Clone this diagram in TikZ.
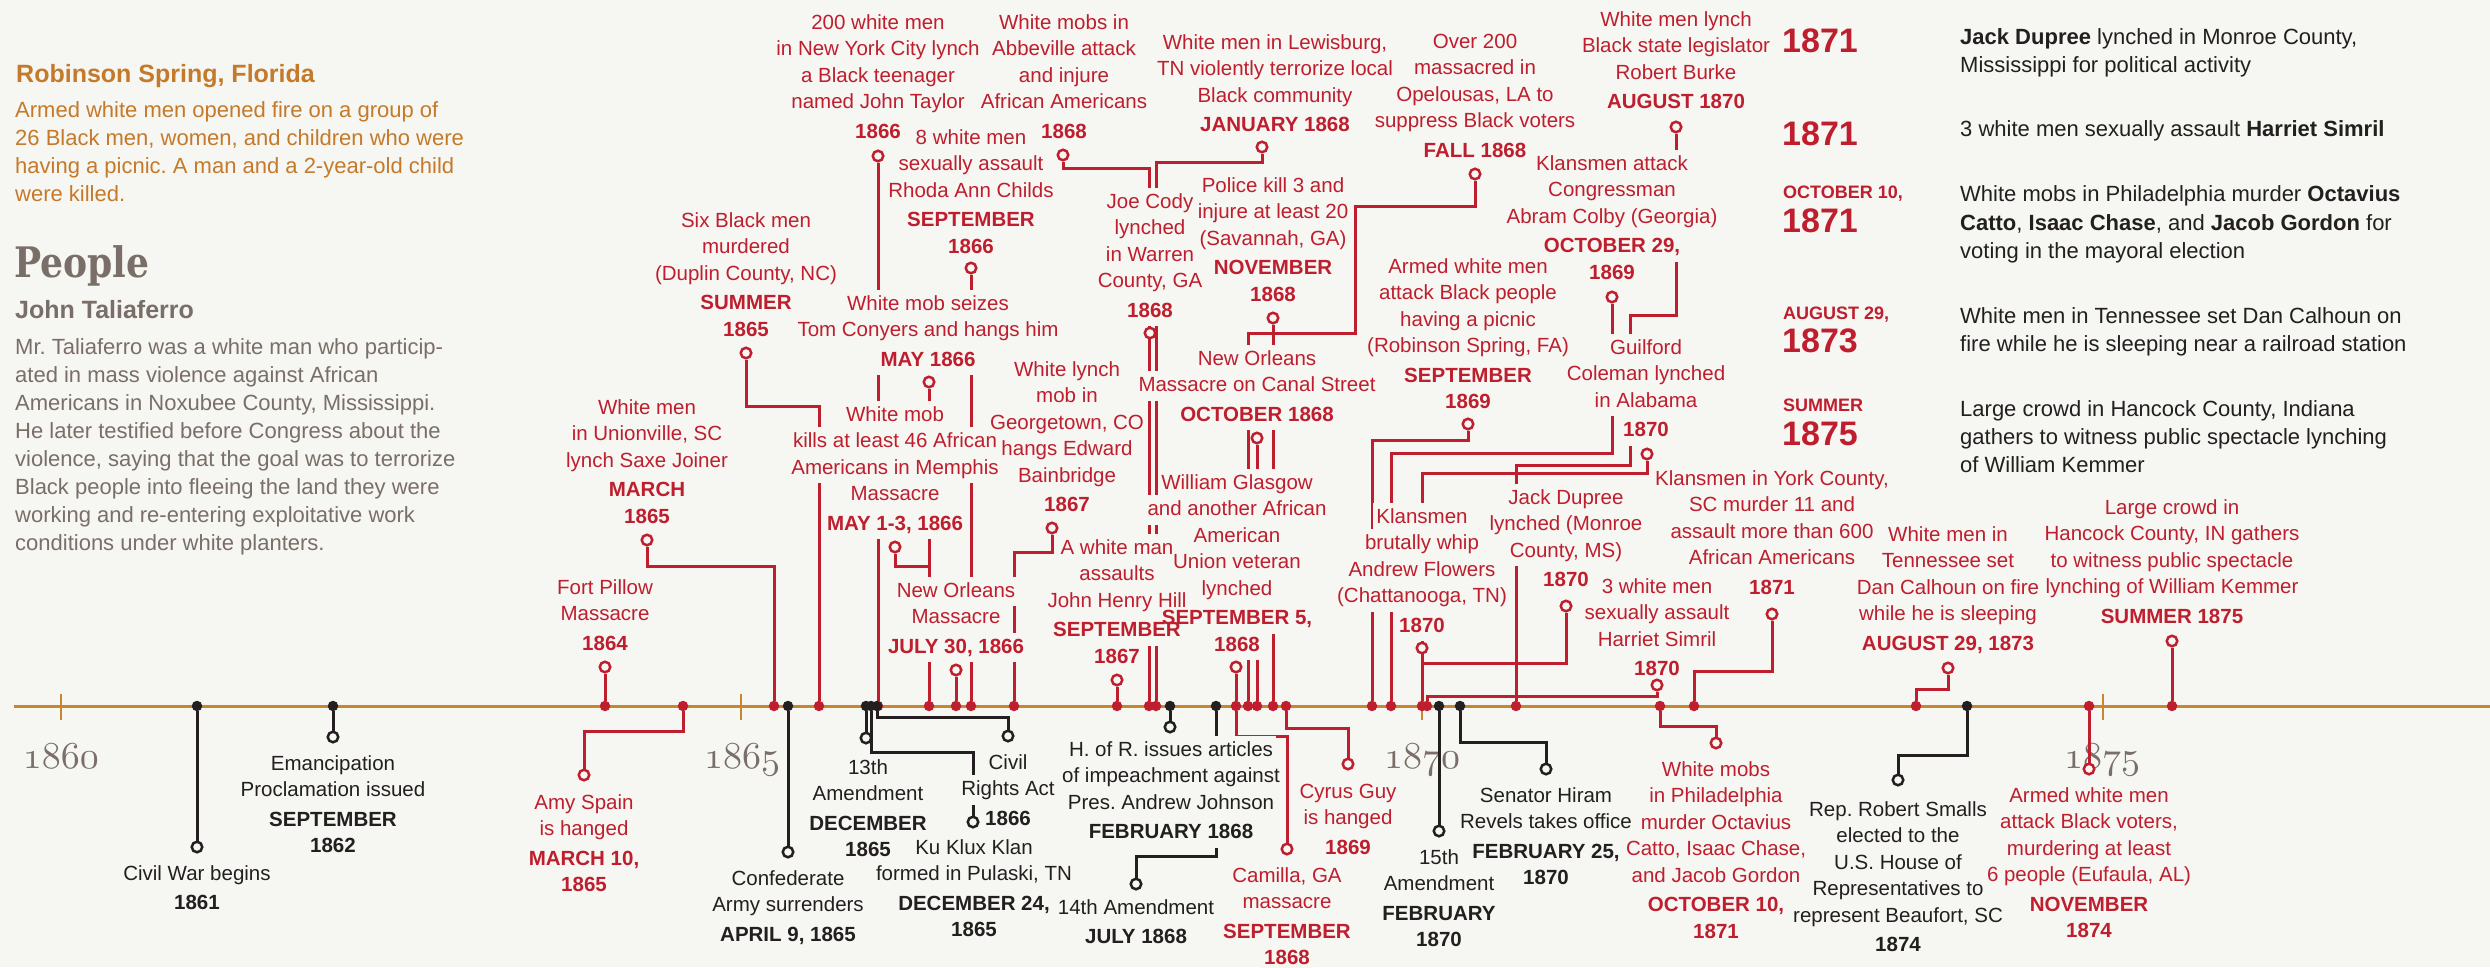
\documentclass[tikz,border=0pt]{standalone}
\usepackage{fontspec}
\usepackage{graphicx}
\setmainfont{Liberation Sans}
\newfontfamily\pplfont{DejaVu Serif}
\frenchspacing
\definecolor{bg}{HTML}{F6F6F2}
\definecolor{cred}{HTML}{BE1E2D}
\definecolor{cblk}{HTML}{231F20}
\definecolor{corange}{HTML}{C8862F}
\definecolor{ctitle}{HTML}{C47A2A}
\definecolor{cgrey}{HTML}{7A6E68}
\pgfdeclarelayer{back}\pgfdeclarelayer{lines}\pgfdeclarelayer{knock}\pgfdeclarelayer{top}
\pgfsetlayers{back,lines,knock,main,top}
\newcommand\evl[6]{%
  \foreach \evtxt [count=\evi] in {#6} {%
    \pgfmathsetmacro\evy{#3+(\evi-1)*26.5+(\evi>#5?3:0)}%
    \begin{pgfonlayer}{knock}
      \node[knk] (k#1\evi) at (#2,\evy+1.5) {\phantom{\evtxt}};
    \end{pgfonlayer}
    \node[lbl,text=#4] (#1\evi) at (#2,\evy) {\evtxt};
  }}
\newcommand\parl[6]{%
  \foreach \evtxt [count=\evi] in {#6} {%
    \pgfmathsetmacro\evy{#3+(\evi-1)*#4}%
    \node[#5] (#1\evi) at (#2,\evy) {\evtxt};
  }}
\begin{document}
\begin{tikzpicture}[x=1pt,y=-1pt,
  lbl/.style={font=\fontsize{20.5}{24}\selectfont, text height=19.5pt, text depth=5pt, inner xsep=2pt, inner ysep=1pt, outer sep=0pt},
  knk/.style={lbl, fill=bg, text depth=8pt, inner xsep=3.5pt},
  ringr/.style={circle, draw=cred, line width=2.5pt, fill=bg, minimum size=10.5pt, inner sep=0pt},
  ringb/.style={ringr, draw=cblk},
  dotr/.style={circle, fill=cred, minimum size=10.5pt, inner sep=0pt},
  dotb/.style={dotr, fill=cblk},
  rl/.style={draw=cred, line width=3pt},
  bl/.style={draw=cblk, line width=3pt},
  axis/.style={draw=corange, line width=3pt},
  yr/.style={anchor=base, inner sep=0pt, text=cgrey, font=\fontsize{10}{10}\usefont{OML}{lmm}{m}{it}},
  para/.style={anchor=base west, inner sep=0pt},
  rp/.style={anchor=base west, inner sep=0pt, text=cblk, font=\fontsize{22}{28}\selectfont},
  bigyr/.style={anchor=base west, inner sep=0pt, text=cred, font=\fontsize{34}{34}\selectfont\bfseries},
  smyr/.style={anchor=base west, inner sep=0pt, text=cred, font=\fontsize{18}{18}\selectfont\bfseries},
]
\useasboundingbox (0,0) rectangle (2490,967);
\begin{pgfonlayer}{back}
  \fill[bg] (0,0) rectangle (2490,967);
  \node[yr] (y1860) at (61,768) {\scalebox{3.8}{1860}};
  \node[yr] (y1865) at (742,768) {\scalebox{3.8}{1865}};
  \node[yr] (y1870) at (1422,768) {\scalebox{3.8}{1870}};
  \node[yr] (y1875) at (2102,768) {\scalebox{3.8}{1875}};
\end{pgfonlayer}

% ---------- left panel ----------
\node[para, text=ctitle, font=\fontsize{25}{25}\selectfont\bfseries] (rsTitle) at (16,82) {Robinson Spring, Florida};
\parl{rsP}{15}{117}{28}{para,text=ctitle,font=\fontsize{22}{28}\selectfont}{{Armed white men opened fire on a group of},{26 Black men, women, and children who were},{having a picnic. A man and a 2-year-old child},{were killed.}}
\node[para, text=cgrey, font=\pplfont\bfseries\fontsize{42}{42}\selectfont] (people) at (14,277) {\scalebox{0.86}[1]{People}};
\node[para, text=cgrey, font=\fontsize{25}{25}\selectfont\bfseries] (jtName) at (15,318) {John Taliaferro};
\parl{jtP}{15}{354}{28.1}{para,text=cgrey,font=\fontsize{22}{28}\selectfont}{{Mr. Taliaferro was a white man who particip-},{ated in mass violence against African},{Americans in Noxubee County, Mississippi.},{He later testified before Congress about the},{violence, saying that the goal was to terrorize},{Black people into fleeing the land they were},{working and re-entering exploitative work},{conditions under white planters.}}

% ---------- right panel ----------
\node[bigyr] (ry1) at (1782,52) {1871};
\node[bigyr] (ry2) at (1782,145) {1871};
\node[smyr] (rs3) at (1783,198.5) {OCTOBER 10,};
\node[bigyr] (ry3) at (1782,232) {1871};
\node[smyr] (rs4) at (1783,319.5) {AUGUST 29,};
\node[bigyr] (ry4) at (1782,352) {1873};
\node[smyr] (rs5) at (1783,411.5) {SUMMER};
\node[bigyr] (ry5) at (1782,445) {1875};
\node[rp] (rt1) at (1960,44) {\textbf{Jack Dupree} lynched in Monroe County,};
\node[rp] (rt2) at (1960,72) {Mississippi for political activity};
\node[rp] (rt3) at (1960,136) {3 white men sexually assault \textbf{Harriet Simril}};
\node[rp] (rt4) at (1960,201) {White mobs in Philadelphia murder \textbf{Octavius}};
\node[rp] (rt5) at (1960,230) {\textbf{Catto}, \textbf{Isaac Chase}, and \textbf{Jacob Gordon} for};
\node[rp] (rt6) at (1960,258) {voting in the mayoral election};
\node[rp] (rt7) at (1960,323) {White men in Tennessee set Dan Calhoun on};
\node[rp] (rt8) at (1960,351) {fire while he is sleeping near a railroad station};
\node[rp] (rt9) at (1960,416) {Large crowd in Hancock County, Indiana};
\node[rp] (rt10) at (1960,444) {gathers to witness public spectacle lynching};
\node[rp] (rt11) at (1960,472) {of William Kemmer};

% ---------- dots and rings ----------
\begin{pgfonlayer}{top}
\foreach \nm/\xx in {FP/605, AS/683, SJ/774, SB/819, NY/878, MAY/929, NO/956, RA/971, GT/1014, JH/1117, AB/1149, LW/1156, GL/1236, OP/1248, CN/1257, PK/1273, CG/1286, PC/1372, CO/1391, FL/1422, HS/1427, BK/1516, PH/1660, YK/1694, DC/1916, EU/2089, HC/2172}
  \node[dotr] (d\nm) at (\xx,706) {};
\foreach \nm/\xx in {CW/197, EP/333, CS/788, 13/866, KKK/871, CRA/877, IMP/1170, 14/1216, 15/1439, REV/1460, SM/1967}
  \node[dotb] (d\nm) at (\xx,706) {};
\foreach \nm/\xx/\yy in {SJ/647/540, FP/605/667, AS/584/775, SB/746/353, NY/878/156, TC/929/382, MM/895/547, NO/956/670, RA/971/268, GT/1052/528, JH/1117/680, AB/1063/155, LW/1262/147, JC/1150/333, GL/1236/667, CM/1287/849, OP/1475/174, CN/1257/438, PK/1273/318, CG/1348/764, PC/1468/424, CO/1612/297, BK/1676/127, GC/1647/454, FL/1422/648, JD/1566/606, HS/1657/685, PH/1716/743, YK/1772/614, DC/1948/668, EU/2089/769, HC/2172/641}
  \node[ringr] (c\nm) at (\xx,\yy) {};
\foreach \nm/\xx/\yy in {CW/197/847, EP/333/737, CS/788/852, 13/866/738, KKK/973/822, CRA/1008/736, IMP/1170/727, 14/1136/884, 15/1439/831, REV/1546/769, SM/1898/780}
  \node[ringb] (c\nm) at (\xx,\yy) {};
\end{pgfonlayer}
\coordinate (jOP) at (1355,333);
\coordinate (jBK) at (1630,465);
\coordinate (axL) at (14,706);
\coordinate (axR) at (2490,706);

% ---------- connectors ----------
\begin{pgfonlayer}{lines}
\draw[axis] (axL) -- (axR);
\foreach \tx in {61,741,1422,2103}
  \draw[axis, line width=2.4pt] (\tx,694) -- (\tx,720);
\draw[bl] (dCW) -- (cCW);
\draw[bl] (dEP) -- (cEP);
\draw[bl] (dCS) -- (cCS);
\draw[bl] (d13) -- (c13);
\draw[bl] (dKKK) -- (dKKK |- 0,752) -| (cKKK);
\draw[bl] (dCRA) -- (dCRA |- 0,717) -| (cCRA);
\draw[bl] (dIMP) -- (cIMP);
\draw[bl] (d14) -- (d14 |- 0,856) -| (c14);
\draw[bl] (d15) -- (c15);
\draw[bl] (dREV) -- (dREV |- 0,742) -| (cREV);
\draw[bl] (dSM) -- (dSM |- 0,755) -| (cSM);
\draw[rl] (dFP) -- (cFP);
\draw[rl] (dAS) -- (dAS |- 0,731) -| (cAS);
\draw[rl] (cSJ) -- (cSJ |- 0,566) -| (dSJ);
\draw[rl] (cSB) -- (cSB |- 0,406) -| (dSB);
\draw[rl] (cNY) -- (dNY);
\draw[rl] (cTC) -- (dMAY);
\draw[rl] (cMM) -- (cMM |- 0,566) -- (dMAY |- 0,566);
\draw[rl] (cNO) -- (dNO);
\draw[rl] (cRA) -- (dRA);
\draw[rl] (cGT) -- (cGT |- 0,552) -| (dGT);
\draw[rl] (cJH) -- (dJH);
\draw[rl] (cAB) -- (cAB |- 0,168) -| (dAB);
\draw[rl] (cLW) -- (cLW |- 0,162) -| (dLW);
\draw[rl] (cGL) -- (dGL);
\draw[rl] (dGL) -- (dGL |- 0,736) -| (cCM);
\draw[rl] (cOP) -- (cOP |- 0,206) -| (jOP) -| (dOP);
\draw[rl] (cCN) -- (dCN);
\draw[rl] (cPK) -- (dPK);
\draw[rl] (dCG) -- (dCG |- 0,728) -| (cCG);
\draw[rl] (cPC) -- (cPC |- 0,440) -| (dPC);
\draw[rl] (cCO) -- (cCO |- 0,453) -| (dCO);
\draw[rl] (cBK) -- (cBK |- 0,315) -| (jBK) -| (dBK);
\draw[rl] (cGC) -- (cGC |- 0,473) -| (dFL);
\draw[rl] (cFL) -- (dFL);
\draw[rl] (cJD) -- (cJD |- 0,663) -| (dFL);
\draw[rl] (cHS) -- (cHS |- 0,696) -| (dHS);
\draw[rl] (dPH) -- (dPH |- 0,726) -| (cPH);
\draw[rl] (cYK) -- (cYK |- 0,671) -| (dYK);
\draw[rl] (dDC) -- (dDC |- 0,689) -| (cDC);
\draw[rl] (dEU) -- (cEU);
\draw[rl] (cHC) -- (dHC);
\end{pgfonlayer}

% ---------- event labels ----------
\evl{LCW}{197}{873}{cblk}{1}{{Civil War begins},{\bfseries 1861}}
\evl{LEP}{333}{763}{cblk}{2}{{Emancipation},{Proclamation issued},{\bfseries SEPTEMBER},{\bfseries 1862}}
\evl{LFP}{605}{587}{cred}{2}{{Fort Pillow},{Massacre},{\bfseries 1864}}
\evl{LAS}{584}{802}{cred}{2}{{Amy Spain},{is hanged},{\bfseries MARCH 10,},{\bfseries 1865}}
\evl{LSJ}{647}{407}{cred}{3}{{White men},{in Unionville, SC},{lynch Saxe Joiner},{\bfseries MARCH},{\bfseries 1865}}
\evl{LCS}{788}{878}{cblk}{2}{{Confederate},{Army surrenders},{\bfseries APRIL 9, 1865}}
\evl{LSB}{746}{220}{cred}{3}{{Six Black men},{murdered},{(Duplin County, NC)},{\bfseries SUMMER},{\bfseries 1865}}
\evl{L13}{868}{767}{cblk}{2}{{13th},{Amendment},{\bfseries DECEMBER},{\bfseries 1865}}
\evl{LKKK}{974}{847}{cblk}{2}{{Ku Klux Klan},{formed in Pulaski, TN},{\bfseries DECEMBER 24,},{\bfseries 1865}}
\evl{LCRA}{1008}{762}{cblk}{2}{{Civil},{Rights Act},{\bfseries 1866}}
\evl{LNY}{878}{22}{cred}{4}{{200 white men},{in New York City lynch},{a Black teenager},{named John Taylor},{\bfseries 1866}}
\evl{LRA}{971}{137}{cred}{3}{{8 white men},{sexually assault},{Rhoda Ann Childs},{\bfseries SEPTEMBER},{\bfseries 1866}}
\evl{LTC}{928}{303}{cred}{2}{{White mob seizes},{Tom Conyers and hangs him},{\bfseries MAY 1866}}
\evl{LMM}{895}{414}{cred}{4}{{White mob},{kills at least 46 African},{Americans in Memphis},{Massacre},{\bfseries MAY 1-3, 1866}}
\evl{LNO}{956}{590}{cred}{2}{{New Orleans},{Massacre},{\bfseries JULY 30, 1866}}
\evl{LGT}{1067}{369}{cred}{5}{{White lynch},{mob in},{Georgetown, CO},{hangs Edward},{Bainbridge},{\bfseries 1867}}
\evl{LJH}{1117}{547}{cred}{3}{{A white man},{assaults},{John Henry Hill},{\bfseries SEPTEMBER},{\bfseries 1867}}
\evl{LAB}{1064}{22}{cred}{4}{{White mobs in},{Abbeville attack},{and injure},{African Americans},{\bfseries 1868}}
\evl{LLW}{1275}{42}{cred}{3}{{White men in Lewisburg,},{TN violently terrorize local},{Black community},{\bfseries JANUARY 1868}}
\evl{LJC}{1150}{201}{cred}{4}{{Joe Cody},{lynched},{in Warren},{County, GA},{\bfseries 1868}}
\evl{LPK}{1273}{185}{cred}{3}{{Police kill 3 and},{injure at least 20},{(Savannah, GA)},{\bfseries NOVEMBER},{\bfseries 1868}}
\evl{LCN}{1257}{358}{cred}{2}{{New Orleans},{Massacre on Canal Street},{\bfseries OCTOBER 1868}}
\evl{LGL}{1237}{482}{cred}{5}{{William Glasgow},{and another African},{American},{Union veteran},{lynched},{\bfseries SEPTEMBER 5,},{\bfseries 1868}}
\evl{LIMP}{1171}{749}{cblk}{3}{{H. of R. issues articles},{of impeachment against},{Pres. Andrew Johnson},{\bfseries FEBRUARY 1868}}
\evl{L14}{1136}{907}{cblk}{1}{{14th Amendment},{\bfseries JULY 1868}}
\evl{LCM}{1287}{875}{cred}{2}{{Camilla, GA},{massacre},{\bfseries SEPTEMBER},{\bfseries 1868}}
\evl{LCG}{1348}{791}{cred}{2}{{Cyrus Guy},{is hanged},{\bfseries 1869}}
\evl{LOP}{1475}{41}{cred}{4}{{Over 200},{massacred in},{Opelousas, LA to},{suppress Black voters},{\bfseries FALL 1868}}
\evl{LBK}{1676}{19}{cred}{3}{{White men lynch},{Black state legislator},{Robert Burke},{\bfseries AUGUST 1870}}
\evl{LCO}{1612}{163}{cred}{3}{{Klansmen attack},{Congressman},{Abram Colby (Georgia)},{\bfseries OCTOBER 29,},{\bfseries 1869}}
\evl{LPC}{1468}{266}{cred}{4}{{Armed white men},{attack Black people},{having a picnic},{(Robinson Spring, FA)},{\bfseries SEPTEMBER},{\bfseries 1869}}
\evl{LGC}{1646}{347}{cred}{3}{{Guilford},{Coleman lynched},{in Alabama},{\bfseries 1870}}
\evl{LFL}{1422}{516}{cred}{4}{{Klansmen},{brutally whip},{Andrew Flowers},{(Chattanooga, TN)},{\bfseries 1870}}
\evl{LJD}{1566}{497}{cred}{3}{{Jack Dupree},{lynched (Monroe},{County, MS)},{\bfseries 1870}}
\evl{LHS}{1657}{586}{cred}{3}{{3 white men},{sexually assault},{Harriet Simril},{\bfseries 1870}}
\evl{LYK}{1772}{478}{cred}{4}{{Klansmen in York County,},{SC murder 11 and},{assault more than 600},{African Americans},{\bfseries 1871}}
\evl{L15}{1439}{857}{cblk}{2}{{15th},{Amendment},{\bfseries FEBRUARY},{\bfseries 1870}}
\evl{LREV}{1546}{795}{cblk}{2}{{Senator Hiram},{Revels takes office},{\bfseries FEBRUARY 25,},{\bfseries 1870}}
\evl{LPH}{1716}{769}{cred}{5}{{White mobs},{in Philadelphia},{murder Octavius},{Catto, Isaac Chase,},{and Jacob Gordon},{\bfseries OCTOBER 10,},{\bfseries 1871}}
\evl{LDC}{1948}{534}{cred}{4}{{White men in},{Tennessee set},{Dan Calhoun on fire},{while he is sleeping},{\bfseries AUGUST 29, 1873}}
\evl{LSM}{1898}{809}{cblk}{5}{{Rep. Robert Smalls},{elected to the},{U.S. House of},{Representatives to},{represent Beaufort, SC},{\bfseries 1874}}
\evl{LEU}{2089}{795}{cred}{4}{{Armed white men},{attack Black voters,},{murdering at least},{6 people (Eufaula, AL)},{\bfseries NOVEMBER},{\bfseries 1874}}
\evl{LHC}{2172}{507}{cred}{4}{{Large crowd in},{Hancock County, IN gathers},{to witness public spectacle},{lynching of William Kemmer},{\bfseries SUMMER 1875}}
\end{tikzpicture}
\end{document}
